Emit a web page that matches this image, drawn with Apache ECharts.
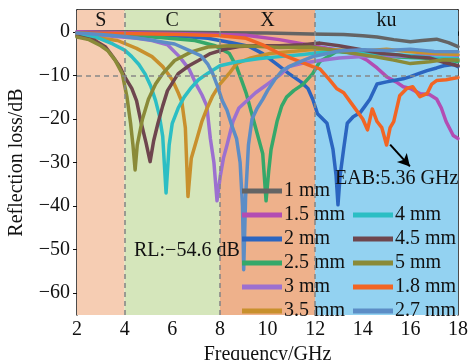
<!DOCTYPE html>
<html>
<head>
<meta charset="utf-8">
<script src="https://cdn.jsdelivr.net/npm/echarts@6/dist/echarts.min.js"></script>
<style>html,body{margin:0;padding:0;background:#fff;}#c{width:469px;height:360px;}</style>
</head>
<body>
<div id="c"></div>
<script>
// ---- data ----
const names = ['1 mm','1.5 mm','2 mm','2.5 mm','3 mm','3.5 mm','4 mm','4.5 mm','5 mm','1.8 mm','2.7 mm'];
const xTicks = [2,4,6,8,10,12,14,16,18];
const yTicks = [0,-10,-20,-30,-40,-50,-60];
const bands = [['S',2,4],['C',4,8],['X',8,12],['ku',12,18]];

const d1mm = [[2,0],[4,0],[6,-0.1],[8,-0.2],[10,-0.3],[11.8,-0.5],[13.2,-0.6],[14,-0.9],[14.6,-1.2],[15.3,-1.8],[16,-2.3],[16.5,-2],[17.1,-1.7],[17.6,-2.5],[18,-3.4]];
const d15mm = [[2,0],[4,-0.2],[6,-0.4],[8,-0.6],[9.1,-0.8],[10.5,-1.8],[11.9,-3.2],[12.5,-3.8],[13.2,-4.4],[13.7,-5.2],[14.2,-6.6],[14.6,-8.3],[15,-10.3],[15.4,-11.5],[15.7,-12.6],[16,-13],[16.4,-14.2],[16.8,-14.4],[17.1,-15.4],[17.3,-17.5],[17.5,-20.6],[17.8,-23.8],[18,-24.5]];
const d2mm = [[2,-0.2],[4,-0.5],[6,-0.9],[7.5,-1.5],[8.5,-2.5],[9.2,-3.3],[9.8,-5],[10.4,-7.5],[10.9,-9.6],[11.4,-11.5],[11.7,-13],[11.9,-15.5],[12.1,-18.8],[12.5,-21],[12.75,-27],[12.88,-33],[12.96,-39.7],[13.05,-33],[13.2,-26.8],[13.35,-21],[13.6,-19.5],[13.9,-18.5],[14.1,-17],[14.3,-15.5],[14.6,-12],[15,-11.5],[15.3,-11.2],[15.7,-10.8],[16,-10.3],[16.4,-9.5],[16.7,-8.9],[17.1,-8.3],[17.4,-7.8],[17.8,-7.5],[18,-8]];
const d25mm = [[2,-0.3],[4,-0.8],[5.5,-1.3],[6.95,-2],[7.8,-3.2],[8.4,-5],[8.7,-8],[8.9,-11],[9.1,-14],[9.4,-20],[9.65,-25],[9.8,-28],[9.94,-38.8],[10.05,-32],[10.15,-27],[10.4,-20.6],[10.6,-17],[10.8,-15],[11.1,-13.5],[11.5,-12],[11.9,-9.6],[12.2,-6.8],[12.9,-4.5],[13.5,-4.8],[14.5,-5.3],[15.5,-5.8],[16.5,-6],[17.3,-6.3],[18,-6.8]];
const d3mm = [[2,-0.5],[3.5,-1],[4.5,-1.5],[5.15,-2],[5.8,-3],[6.3,-5.7],[6.7,-8.5],[7,-12],[7.25,-14.5],[7.45,-17],[7.6,-24.5],[7.75,-30],[7.88,-38.8],[8.02,-33],[8.15,-29],[8.3,-26],[8.55,-20.6],[8.8,-17.5],[9.1,-16],[9.5,-14],[10,-12],[10.5,-10],[10.9,-8],[11.5,-7.2],[12.2,-6.6],[13,-6],[14,-5.7],[15,-5.5],[16,-5.6],[17,-5.2],[18,-5.4]];
const d35mm = [[2,-0.8],[3,-1.5],[3.7,-2],[4.5,-3.8],[5.15,-5.7],[5.6,-8],[6,-11],[6.25,-14],[6.4,-16],[6.55,-22],[6.66,-37.8],[6.8,-29],[7.04,-24.5],[7.25,-20.5],[7.45,-17.7],[7.7,-14.7],[8,-12],[8.4,-9.5],[8.7,-7.3],[9.3,-6],[10.1,-5],[11,-4.5],[12,-4],[13,-4.2],[14,-4.4],[15,-4],[16,-4.6],[17,-5],[18,-5.2]];
const d4mm = [[2,-0.5],[2.8,-1.2],[3.5,-2.8],[4,-4.2],[4.3,-5.7],[4.6,-7.5],[4.85,-9.6],[5.1,-12.5],[5.3,-15.8],[5.45,-19],[5.6,-24],[5.74,-37],[5.87,-26],[6,-21],[6.25,-17.5],[6.5,-15],[6.8,-12.8],[7.1,-11],[7.5,-9.5],[8,-7.8],[8.8,-6.8],[9.6,-6.2],[10.5,-5.7],[11.5,-5.2],[12.5,-4.6],[13.5,-4.2],[14.5,-5],[15.3,-5.2],[16,-5.5],[17,-6],[18,-6.2]];
const d45mm = [[2,-1],[2.75,-2],[3.2,-3.5],[3.5,-5.7],[3.8,-8],[4,-10.3],[4.3,-13],[4.5,-15.8],[4.7,-21],[4.9,-25.5],[5.07,-29.8],[5.22,-25],[5.4,-21],[5.6,-17],[5.8,-13.5],[6.25,-9.6],[6.7,-7.8],[7.1,-6.6],[7.6,-5],[8.2,-4],[8.8,-3.4],[9.5,-3.2],[10.5,-3.2],[11.5,-3],[12.2,-2.6],[13,-3.2],[14,-4.2],[14.8,-5],[15.5,-5.3],[16,-5.7],[16.8,-6],[17.4,-7],[18,-7.8]];
const d5mm = [[2,-1.2],[2.5,-1.8],[3,-3.2],[3.3,-4.4],[3.6,-6.5],[3.9,-9.6],[4.1,-15],[4.25,-21],[4.35,-26],[4.44,-31.7],[4.53,-26],[4.75,-20],[5,-15.5],[5.3,-12],[5.6,-9.6],[6.1,-6.6],[6.8,-4.6],[7.5,-3.5],[8.4,-3.2],[9.5,-3.3],[10.5,-3.6],[11.8,-3.5],[12.5,-4],[13.2,-4.6],[14,-5.3],[14.6,-5.8],[15.3,-6.5],[16,-7.3],[16.8,-6.9],[17.4,-6.4],[18,-6.5]];
const d18mm = [[2,-0.3],[4,-0.4],[6.3,-0.6],[8,-0.9],[9.1,-1.5],[9.8,-3],[10.5,-5],[11.2,-6.5],[11.9,-8],[12.2,-8.5],[12.6,-11],[12.9,-13],[13.2,-14],[13.6,-17],[14,-20],[14.2,-22.5],[14.4,-17.7],[14.6,-20.6],[14.8,-22],[15,-26],[15.15,-22],[15.3,-20.6],[15.55,-14.7],[15.85,-13],[16.1,-12.6],[16.4,-14.9],[16.7,-14.2],[16.9,-12],[17.1,-11.2],[17.5,-11],[18,-10.5]];
const d27mm = [[2,-0.3],[3,-0.6],[4,-1.1],[5,-1.8],[6.1,-2.8],[6.8,-4.5],[7.2,-5.5],[7.5,-7.5],[7.7,-9.6],[7.9,-12.5],[8.1,-15.8],[8.3,-18],[8.5,-21.5],[8.7,-24.5],[8.85,-30],[8.95,-40],[9,-54.6],[9.08,-38],[9.2,-26],[9.35,-20],[9.55,-17.7],[9.8,-15.5],[10,-13.5],[10.3,-11],[10.6,-9],[10.9,-8],[11.4,-6.8],[11.9,-5.7],[12.5,-5],[13,-4.4],[14,-4.1],[15,-4.3],[16,-4],[17,-4.5],[18,-4.6]];

const seriesData = [d1mm,d15mm,d2mm,d25mm,d3mm,d35mm,d4mm,d45mm,d5mm,d18mm,d27mm];
const colors = ['#646464','#b34db3','#2b65c0','#35a86a','#9c70d0','#c8902d','#2cbec4','#6e464e','#8a8a38','#f26524','#5c8dc6'];
const bandColors = ['#f6cdb3','#d5e6bb','#eeb18b','#93d2f1'];

const FONT = 'Liberation Serif';
const chart = echarts.init(document.getElementById('c'), null, {renderer:'canvas'});

const series = [{
  type:'line', data:[], z:1, silent:true,
  markArea:{silent:true, data: bands.map((b,i)=>[{xAxis:b[1], itemStyle:{color:bandColors[i], opacity:1}, label:{show:true, position:'insideTop', distance:1, formatter:b[0], color:'#111', fontFamily:FONT, fontSize:20}},{xAxis:b[2]}])},
  markLine:{silent:true, symbol:'none', label:{show:false}, lineStyle:{type:[5,4], color:'#888', width:1.6},
    data:[{yAxis:-10},{xAxis:4},{xAxis:8},{xAxis:12}]}
}];
names.forEach((n,i)=>{
  const s = {name:n, type:'line', data:seriesData[i], showSymbol:false, symbol:'none', z:2,
    lineStyle:{width:3.5, color:colors[i], join:'round', cap:'round'}, itemStyle:{color:colors[i]}};
  if (n === '1.8 mm') {
    s.markLine = {silent:true, symbol:['none','arrow'], symbolSize:[10,12], label:{show:false},
      lineStyle:{type:'solid', color:'#000', width:2},
      data:[[{coord:[15.15,-25.9]},{coord:[15.98,-30.9]}]]};
  }
  series.push(s);
});

const legendCommon = {orient:'vertical', icon:'rect', itemWidth:40, itemHeight:5, itemGap:4,
  textStyle:{fontFamily:FONT, fontSize:20, color:'#111', lineHeight:20, padding:[0,0,0,-3]}, selectedMode:false};

chart.setOption({
  animation:false,
  textStyle:{fontFamily:FONT},
  grid:{left:77, right:11, top:10, bottom:45, outerBoundsMode:'none', containLabel:false},
  legend:[
    Object.assign({}, legendCommon, {left:237, top:176, data:names.slice(0,6)}),
    Object.assign({}, legendCommon, {left:348, top:200, data:names.slice(6)})
  ],
  xAxis:[{type:'value', min:2, max:18, interval:2,
    name:'Frequency/GHz', nameLocation:'middle', nameGap:27,
    nameTextStyle:{fontFamily:FONT, fontSize:20, color:'#111'},
    axisLine:{lineStyle:{color:'#111', width:1.5}},
    axisTick:{show:true, length:4, inside:false, lineStyle:{color:'#111'}},
    axisLabel:{fontFamily:FONT, fontSize:20, color:'#111', margin:5, customValues:xTicks},
    splitLine:{show:false}},
   {type:'value', min:2, max:18, position:'top', axisLine:{show:true, onZero:false, lineStyle:{color:'#111', width:1.5}},
    axisTick:{show:false}, axisLabel:{show:false}, splitLine:{show:false}}],
  yAxis:[{type:'value', min:-65, max:5,
    name:'Reflection loss/dB', nameLocation:'middle', nameGap:50,
    nameTextStyle:{fontFamily:FONT, fontSize:20, color:'#111'},
    axisLine:{onZero:false, lineStyle:{color:'#111', width:1.5}},
    axisTick:{show:true, length:4, customValues:yTicks, lineStyle:{color:'#111'}},
    axisLabel:{fontFamily:FONT, fontSize:20, color:'#111', margin:7, customValues:yTicks, formatter:v=>String(v).replace('-','\u2212')},
    splitLine:{show:false}},
   {type:'value', min:-65, max:5, position:'right', axisLine:{show:true, onZero:false, lineStyle:{color:'#111', width:1.5}},
    axisTick:{show:false}, axisLabel:{show:false}, splitLine:{show:false}}],
  graphic:[
    {type:'text', left:134, top:241, z:100, style:{text:'RL:\u221254.6 dB', font:'20px "Liberation Serif"', fill:'#111'}},
    {type:'text', left:335, top:169, z:100, style:{text:'EAB:5.36 GHz', font:'20px "Liberation Serif"', fill:'#111'}}
  ],
  series:series
});
</script>
</body>
</html>
